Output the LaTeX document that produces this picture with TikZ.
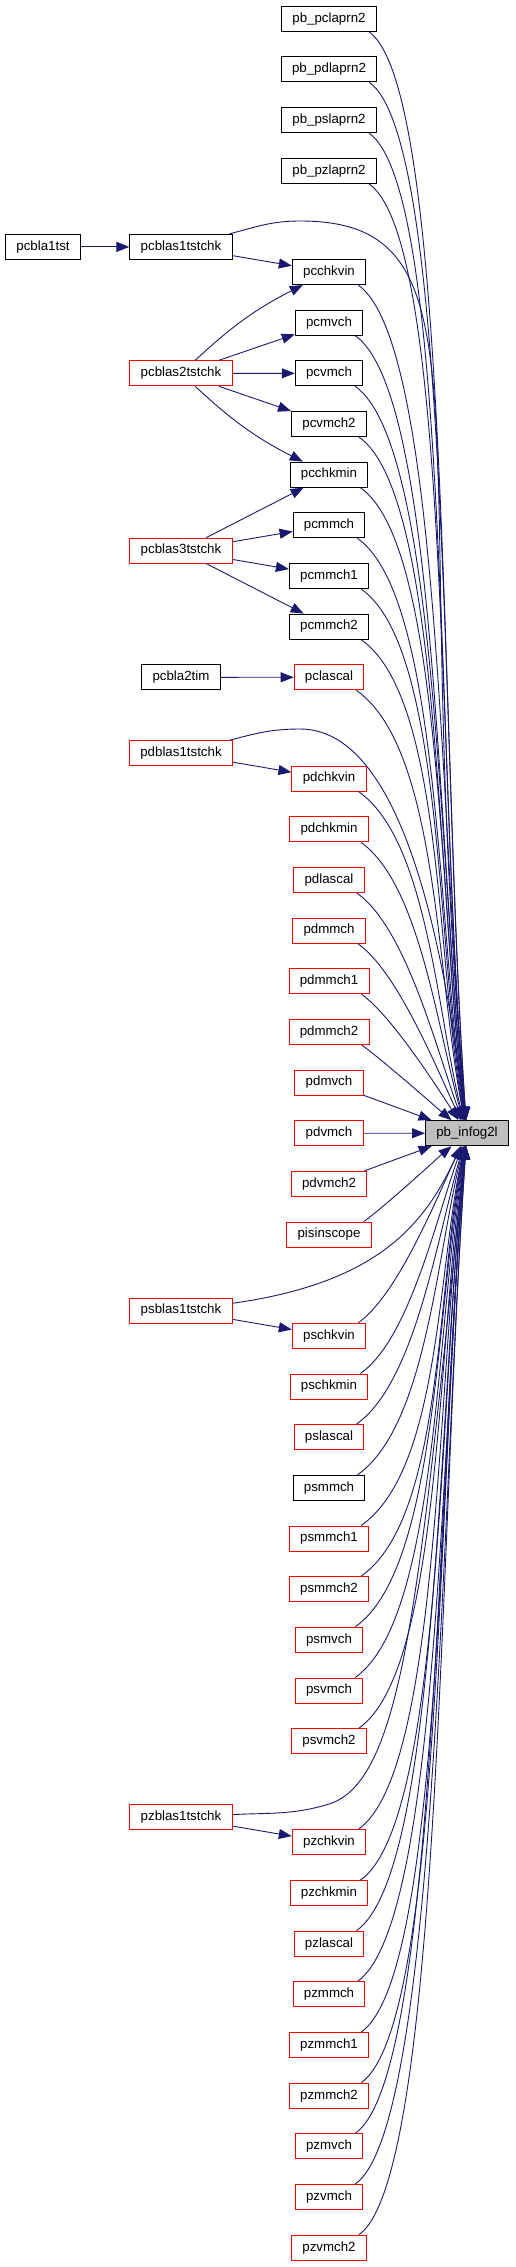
\documentclass[tikz,border=0pt]{standalone}
\usepackage{fontspec}
\setmainfont{Liberation Sans}
\usetikzlibrary{arrows.meta}

\definecolor{callblue}{HTML}{191970}
\definecolor{infogray}{HTML}{BFBFBF}

\tikzset{
    fn/.style={draw, line width=1pt, minimum height=25pt, inner xsep=10.8pt, inner ysep=0pt,
        text height=9.5pt, text depth=2.8pt, font=\fontsize{13.3}{16}\selectfont},
    call/.style={draw=callblue, line width=0.9pt, -{Triangle[length=13pt,width=10pt]}},
}

\begin{document}
\begin{tikzpicture}[x=1pt, y=1pt]
    \useasboundingbox (0,0) rectangle (515,-2267);
    \node[fn, fill=infogray] (infog) at (467, -1133.2) {pb\_infog2l};
    \foreach \nm/\txt/\row/\col in {
        pbpclaprn2/pb\_pclaprn2/0/black, pbpdlaprn2/pb\_pdlaprn2/1/black,
        pbpslaprn2/pb\_pslaprn2/2/black, pbpzlaprn2/pb\_pzlaprn2/3/black,
        pcchkvin/pcchkvin/5/black, pcmvch/pcmvch/6/black, pcvmch/pcvmch/7/black,
        pcvmch2/pcvmch2/8/black, pcchkmin/pcchkmin/9/black, pcmmch/pcmmch/10/black,
        pcmmch1/pcmmch1/11/black, pcmmch2/pcmmch2/12/black, pclascal/pclascal/13/red,
        pdchkvin/pdchkvin/15/red, pdchkmin/pdchkmin/16/red, pdlascal/pdlascal/17/red,
        pdmmch/pdmmch/18/red, pdmmch1/pdmmch1/19/red, pdmmch2/pdmmch2/20/red,
        pdmvch/pdmvch/21/red, pdvmch/pdvmch/22/red, pdvmch2/pdvmch2/23/red,
        pisinscope/pisinscope/24/red,
        pschkvin/pschkvin/26/red, pschkmin/pschkmin/27/red, pslascal/pslascal/28/red,
        psmmch/psmmch/29/black, psmmch1/psmmch1/30/red, psmmch2/psmmch2/31/red,
        psmvch/psmvch/32/red, psvmch/psvmch/33/red, psvmch2/psvmch2/34/red,
        pzchkvin/pzchkvin/36/red, pzchkmin/pzchkmin/37/red, pzlascal/pzlascal/38/red,
        pzmmch/pzmmch/39/red, pzmmch1/pzmmch1/40/red, pzmmch2/pzmmch2/41/red,
        pzmvch/pzmvch/42/red, pzvmch/pzvmch/43/red, pzvmch2/pzvmch2/44/red}
        \node[fn, draw=\col] (\nm) at (329, {-18.7-50.66*\row}) {\txt};

    \node[fn] (pcbla1tst) at (43, -246.9) {pcbla1tst};
    \node[fn] (pcblas1tstchk) at (181, -246.9) {pcblas1tstchk};
    \node[fn, draw=red] (pcblas2tstchk) at (181, -373.3) {pcblas2tstchk};
    \node[fn, draw=red] (pcblas3tstchk) at (181, -550.6) {pcblas3tstchk};
    \node[fn] (pcbla2tim) at (181, -677.3) {pcbla2tim};
    \node[fn, draw=red] (pdblas1tstchk) at (181, -753.3) {pdblas1tstchk};
    \node[fn, draw=red] (psblas1tstchk) at (181, -1310.5) {psblas1tstchk};
    \node[fn, draw=red] (pzblas1tstchk) at (181, -1817.3) {pzblas1tstchk};

    \coordinate (v4) at (300, -221);
    \coordinate (v14) at (300, -729);
    \coordinate (v35) at (329, -1804);

    \draw[call] (pcbla1tst) -- (pcblas1tstchk);
    \draw[call] (pcblas1tstchk) -- (pcchkvin);
    \draw[call] (pcblas2tstchk) to[bend left=8] (pcchkvin);
    \draw[call] (pcblas2tstchk) -- (pcmvch);
    \draw[call] (pcblas2tstchk) -- (pcvmch);
    \draw[call] (pcblas2tstchk) -- (pcvmch2);
    \draw[call] (pcblas2tstchk) to[bend right=8] (pcchkmin);
    \draw[call] (pcblas3tstchk) -- (pcchkmin);
    \draw[call] (pcblas3tstchk) -- (pcmmch);
    \draw[call] (pcblas3tstchk) -- (pcmmch1);
    \draw[call] (pcblas3tstchk) -- (pcmmch2);
    \draw[call] (pcbla2tim) -- (pclascal);
    \draw[call] (pdblas1tstchk) -- (pdchkvin);
    \draw[call] (psblas1tstchk) -- (pschkvin);
    \draw[call] (pzblas1tstchk) -- (pzchkvin);

    \draw[call] (pcblas1tstchk) to[out=15, in=180] (v4)
        .. controls +(200,0) and +(95:700) .. (infog);
    \draw[call] (pdblas1tstchk) to[out=15, in=180] (v14)
        .. controls +(95,0) and +(97:220) .. (infog);
    \draw[call] (psblas1tstchk) .. controls +(8:200) and +(-115:100) .. (infog);
    \draw[call] (pzblas1tstchk) to[out=3, in=197] (v35)
        .. controls +(17:80) and +(-96:450) .. (infog);

    \foreach \nm/\d in {pbpclaprn2/22, pbpdlaprn2/21, pbpslaprn2/20, pbpzlaprn2/19,
        pcchkvin/17, pcmvch/16, pcvmch/15, pcvmch2/14, pcchkmin/13, pcmmch/12,
        pcmmch1/11, pcmmch2/10, pclascal/9, pdchkvin/7, pdchkmin/6, pdlascal/5,
        pdmmch/4, pdmmch1/3, pdmmch2/2} {
        \pgfmathtruncatemacro\inang{90+100/\d}
        \pgfmathtruncatemacro\outd{min(12*\d,100)}
        \pgfmathtruncatemacro\ind{18*\d}
        \draw[call] ([xshift=-8pt]\nm.south east) .. controls +(-35:\outd) and +(\inang:\ind) .. (infog);
    }
    \foreach \nm/\d in {pisinscope/2, pschkvin/4, pschkmin/5, pslascal/6, psmmch/7,
        psmmch1/8, psmmch2/9, psmvch/10, psvmch/11, psvmch2/12, pzchkvin/14,
        pzchkmin/15, pzlascal/16, pzmmch/17, pzmmch1/18, pzmmch2/19, pzmvch/20,
        pzvmch/21, pzvmch2/22} {
        \pgfmathtruncatemacro\inang{-90-100/\d}
        \pgfmathtruncatemacro\outd{min(12*\d,100)}
        \pgfmathtruncatemacro\ind{18*\d}
        \draw[call] ([xshift=-8pt]\nm.north east) .. controls +(35:\outd) and +(\inang:\ind) .. (infog);
    }
    \draw[call] (pdmvch) -- (infog);
    \draw[call] (pdvmch) -- (infog);
    \draw[call] (pdvmch2) -- (infog);
\end{tikzpicture}
\end{document}
